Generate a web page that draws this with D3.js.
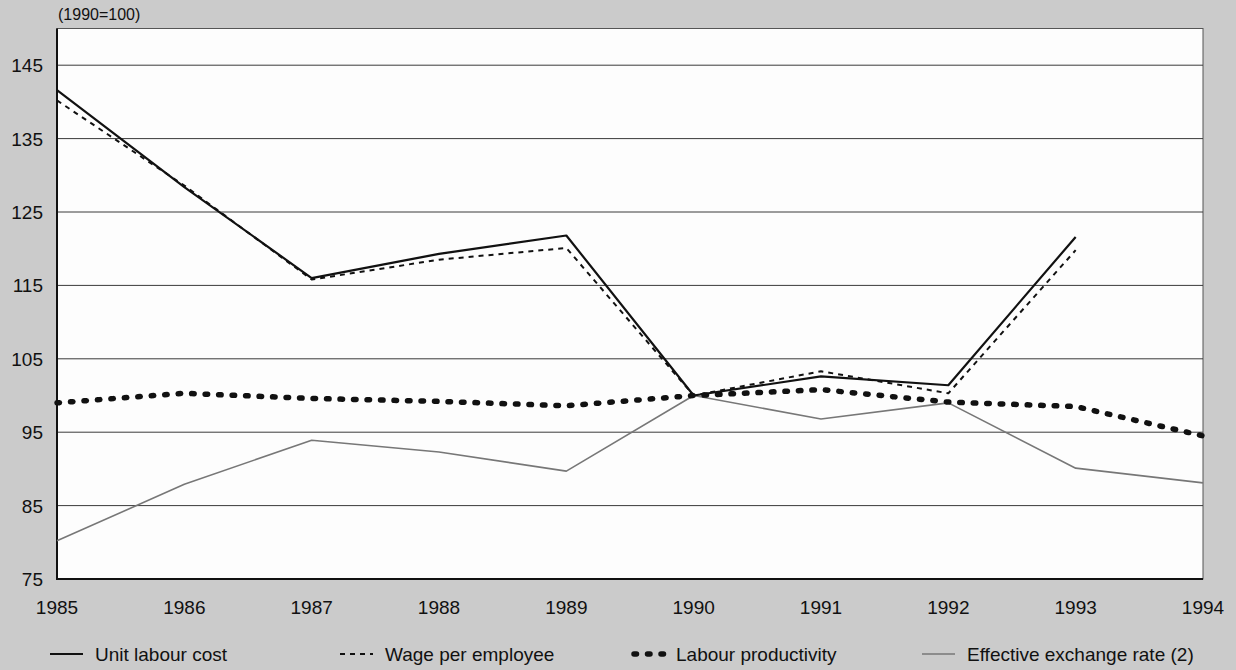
<!DOCTYPE html>
<meta charset="utf-8">
<style>
body { margin: 0; background: #cbcbcb; }
text { font-family: "Liberation Sans", Arial, sans-serif; fill: #111; }
.grid line { stroke: #3a3a3a; stroke-width: 1; }
</style>
<svg width="1236" height="670"></svg>
<script src="https://d3js.org/d3.v7.min.js"></script>
<script>
// years on the x axis
var years = [1985, 1986, 1987, 1988, 1989, 1990, 1991, 1992, 1993, 1994];
// series (1990=100)
var unitLabourCost = [141.6, 128.4, 116.0, 119.3, 121.8, 100.0, 102.6, 101.4, 121.6, null];
var wagePerEmployee = [140.2, 128.6, 115.8, 118.5, 120.1, 100.0, 103.3, 100.3, 119.8, null];
var labourProductivity = [99.0, 100.3, 99.6, 99.2, 98.6, 100.0, 100.8, 99.1, 98.5, 94.5];
var exchangeRate = [80.2, 87.9, 93.9, 92.3, 89.7, 100.0, 96.8, 99.0, 90.1, 88.1];
var yTicks = [75, 85, 95, 105, 115, 125, 135, 145];

var svg = d3.select("svg"),
    plotLeft = 57, plotRight = 1203, plotTop = 28.5, plotBottom = 579;

var x = d3.scaleLinear().domain([1985, 1994]).range([plotLeft, plotRight]);
var y = d3.scaleLinear().domain([75, 150]).range([plotBottom, plotTop]);

// plot area
svg.append("rect")
    .attr("x", plotLeft).attr("y", plotTop)
    .attr("width", plotRight - plotLeft).attr("height", plotBottom - plotTop)
    .attr("fill", "#fdfdfd")
    .attr("stroke", "#555").attr("stroke-width", 1);

// horizontal grid
svg.append("g").attr("class", "grid")
  .selectAll("line")
  .data(yTicks.slice(1))
  .enter().append("line")
    .attr("x1", plotLeft).attr("x2", plotRight)
    .attr("y1", d => y(d)).attr("y2", d => y(d));

// axes lines
svg.append("line").attr("x1", plotLeft).attr("x2", plotLeft).attr("y1", plotTop).attr("y2", plotBottom)
    .attr("stroke", "#111").attr("stroke-width", 2);
svg.append("line").attr("x1", plotLeft - 1).attr("x2", plotRight).attr("y1", plotBottom).attr("y2", plotBottom)
    .attr("stroke", "#111").attr("stroke-width", 2);

// y tick labels
svg.append("g").selectAll("text")
  .data(yTicks)
  .enter().append("text")
    .attr("x", 43).attr("y", d => y(d) + 7)
    .attr("text-anchor", "end")
    .attr("font-size", 19)
    .text(d => d);

// x tick labels
svg.append("g").selectAll("text")
  .data(years)
  .enter().append("text")
    .attr("x", d => x(d)).attr("y", 614)
    .attr("text-anchor", "middle")
    .attr("font-size", 19)
    .text(d => d);

svg.append("text")
    .attr("x", 58).attr("y", 20)
    .attr("font-size", 16)
    .text("(1990=100)");

var line = d3.line()
    .defined(d => d != null)
    .x((d, i) => x(years[i]))
    .y(d => y(d));

var series = [
  {name: "Unit labour cost", values: unitLabourCost, color: "#111", width: 2.2, dash: null, cap: "butt"},
  {name: "Wage per employee", values: wagePerEmployee, color: "#111", width: 2, dash: "5,5", cap: "butt"},
  {name: "Labour productivity", values: labourProductivity, color: "#111", width: 5.5, dash: "2.5,11", cap: "round"},
  {name: "Effective exchange rate (2)", values: exchangeRate, color: "#777", width: 1.6, dash: null, cap: "butt"}
];

svg.append("g").selectAll("path")
  .data(series.slice().reverse())
  .enter().append("path")
    .attr("fill", "none")
    .attr("stroke", d => d.color)
    .attr("stroke-width", d => d.width)
    .attr("stroke-dasharray", d => d.dash)
    .attr("stroke-linecap", d => d.cap)
    .attr("stroke-linejoin", "round")
    .attr("d", d => line(d.values));

// legend
var legendX = [50, 340, 631, 922];
var lg = svg.append("g").selectAll("g")
  .data(series)
  .enter().append("g")
    .attr("transform", (d, i) => "translate(" + legendX[i] + ",654)");
lg.append("line")
    .attr("x1", d => d.cap === "round" ? 3 : 0).attr("x2", 33)
    .attr("stroke", d => d.color)
    .attr("stroke-width", d => d.width)
    .attr("stroke-dasharray", d => d.dash)
    .attr("stroke-linecap", d => d.cap);
lg.append("text")
    .attr("x", 45).attr("y", 7)
    .attr("font-size", 19)
    .text(d => d.name);
</script>
